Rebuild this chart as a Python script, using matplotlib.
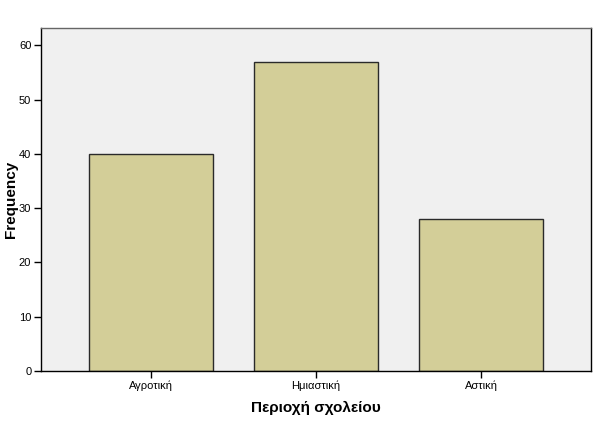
import matplotlib.pyplot as plt
import numpy as np

plt.rcParams['font.family'] = ['Liberation Sans', 'DejaVu Sans']

categories = ['Αγροτική', 'Ημιαστική', 'Αστική']
frequency = [40, 57, 28]
y_ticks = [0, 10, 20, 30, 40, 50, 60]

fig = plt.figure(figsize=(6.03, 4.32), dpi=100)
ax = fig.add_axes([41 / 603, 61 / 432, 550 / 603, 343 / 432])
ax.set_facecolor('#F0F0F0')

x = np.arange(len(categories))
ax.bar(x, frequency, width=0.75, color='#D3CE98', edgecolor='#2A2A2A', linewidth=1.0, zorder=2)

ax.set_xlim(-2 / 3, len(categories) - 1 + 2 / 3)
ax.set_ylim(0, 63.2)
ax.set_xticks(x)
ax.set_xticklabels(categories)
ax.set_yticks(y_ticks)
ax.tick_params(axis='both', direction='out', length=5, width=1, labelsize=8, pad=2, colors='black')

for side in ['left', 'bottom', 'right']:
    ax.spines[side].set_color('black')
    ax.spines[side].set_linewidth(1)
ax.spines['top'].set_color('#666666')
ax.spines['top'].set_linewidth(1)

ax.set_xlabel('Περιοχή σχολείου', fontsize=11, fontweight='bold', labelpad=7)
ax.set_ylabel('Frequency', fontsize=11, fontweight='bold')
ax.yaxis.set_label_coords(-0.041, 0.5)

fig.savefig('out.png', dpi=100)
